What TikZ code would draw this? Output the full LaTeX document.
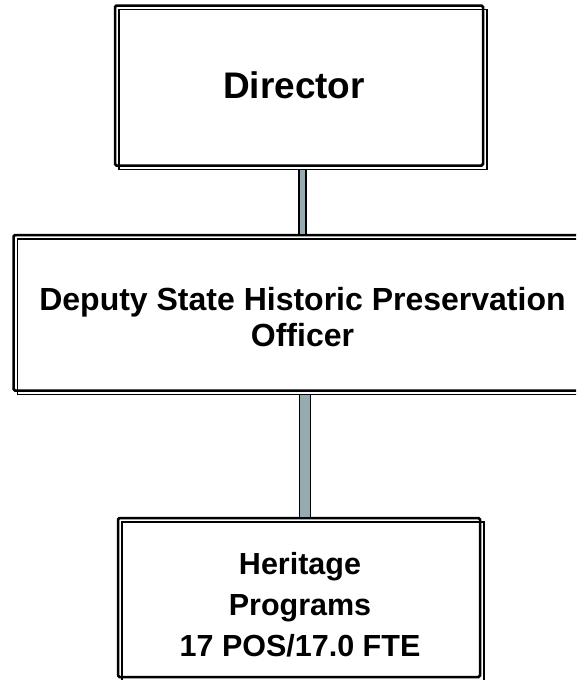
\documentclass[tikz,border=0pt]{standalone}
\usepackage{fontspec}
\setmainfont{Liberation Sans}
\definecolor{linkfill}{HTML}{95ABB0}
\begin{document}
\begin{tikzpicture}[x=1pt,y=-1pt,
  frame/.style={draw=black, line width=2.5pt, rounded corners=1.5pt,
                fill=white, inner sep=0pt, outer sep=0pt},
  offsetline/.style={draw=black, line width=1.7pt},
  link/.style={draw=black, line width=1.3pt, fill=linkfill},
  lbl/.style={anchor=center, inner sep=0pt, align=center, font=\bfseries}]
\useasboundingbox (0,0) rectangle (576,680);
\clip (0,0) rectangle (576,680);

% boxes (main frame)
\node[frame, minimum width=368pt, minimum height=160pt] (dir) at (299,85.5) {};
\node[frame, minimum width=577pt, minimum height=155.5pt] (dep) at (302,312.75) {};
\node[frame, minimum width=362pt, minimum height=159pt] (bot) at (299,597.5) {};

% connectors
\path[link] ([yshift=-4pt]dir.south) rectangle ([xshift=7pt]dir.south |- dep.north);
\path[link] ([xshift=-2.5pt,yshift=-4pt]dep.south) rectangle ([xshift=8.5pt]dep.south |- bot.north);

% offset outlines
\foreach \b in {dir,dep,bot}
  \draw[offsetline] ([xshift=4pt,yshift=-4pt]\b.north west) rectangle ([xshift=4pt,yshift=-4pt]\b.south east);

% labels
\node[lbl, font=\fontsize{37}{44}\selectfont\bfseries] (dirtxt) at (294,85.5) {Director};
\node[lbl, font=\fontsize{32}{36}\selectfont\bfseries] (deptxt) at (302.5,317.4)
  {Deputy State Historic Preservation\\Officer};
\node[lbl, font=\fontsize{30.5}{41}\selectfont\bfseries] (bottxt) at (300,605)
  {Heritage\\Programs\\17 POS/17.0 FTE};
\end{tikzpicture}
\end{document}
